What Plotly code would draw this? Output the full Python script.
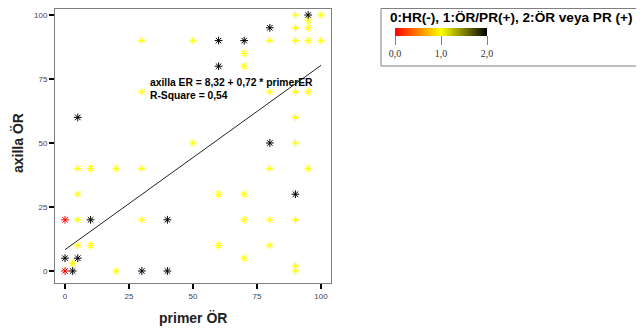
import plotly.graph_objects as go

# The page body adds an 8px margin; the figure is sized to fill the rest.
OFF = 8
W, H = 644 - OFF, 331 - OFF


def px(x):
    return (x - OFF) / W


def py(y):
    return 1 - (y - OFF) / H


# Data: primer ÖR (x) and axilla ÖR (y), grouped by receptor status
# group 1: ÖR/PR(+)  (yellow)
g1_primer = [30, 30, 50, 70, 70, 80, 90, 90, 90, 95, 95, 95, 100, 100, 80, 90, 95, 90,
             50, 90, 80, 95, 60, 70, 70, 80, 90, 60, 80, 70, 90, 90,
             5, 10, 20, 30, 5, 5, 30, 5, 10, 3, 20]
g1_axilla = [90, 70, 90, 85, 80, 90, 100, 95, 90, 98, 95, 90, 100, 90, 70, 70, 70, 60,
             50, 50, 40, 40, 30, 30, 20, 20, 20, 10, 10, 5, 2, 0,
             40, 40, 40, 40, 30, 20, 20, 10, 10, 3, 0]
# group 0: HR(-)  (red)
g0_primer = [0, 0]
g0_axilla = [20, 0]
# group 2: ÖR veya PR (+)  (black)
g2_primer = [0, 3, 5, 5, 10, 30, 40, 40, 60, 70, 60, 80, 95, 80, 90]
g2_axilla = [5, 0, 5, 60, 20, 0, 0, 20, 90, 90, 80, 95, 100, 50, 30]

# Linear fit shown on the chart
intercept, slope = 8.32, 0.72
fit_x = [0, 100]

x_ticks = [0, 25, 50, 75, 100]
y_ticks = [0, 25, 50, 75, 100]
cbar_vals = [0, 1, 2]
cbar_text = ["0,0", "1,0", "2,0"]

xs = g1_primer + g0_primer + g2_primer
ys = g1_axilla + g0_axilla + g2_axilla
grp = [1] * len(g1_primer) + [0] * len(g0_primer) + [2] * len(g2_primer)

cscale = [[0.0, "#ff0000"], [0.5, "#ffff00"], [1.0, "#000000"]]

fig = go.Figure()
fig.add_trace(go.Scatter(
    x=fit_x, y=[intercept + slope * v for v in fit_x],
    mode="lines", line=dict(color="#222222", width=1), showlegend=False,
    hoverinfo="skip"))
fig.add_trace(go.Scatter(
    x=xs, y=ys, mode="markers", showlegend=False,
    marker=dict(symbol="asterisk-open", size=6.5, color=grp, cmin=0, cmax=2,
                colorscale=cscale, line=dict(width=1),
                showscale=True,
                colorbar=dict(orientation="h", x=px(441), xanchor="center",
                              y=py(28), yanchor="top",
                              len=92, lenmode="pixels", thickness=8,
                              xpad=0, ypad=0, outlinewidth=0, borderwidth=0,
                              ticks="outside", ticklen=9, tickwidth=1,
                              tickcolor="#808080",
                              tickvals=cbar_vals, ticktext=cbar_text,
                              tickfont=dict(family="Liberation Serif", size=10,
                                            color="#333333")))))

top_px = 8.5
fig.update_layout(
    width=W, height=H, autosize=False,
    margin=dict(l=0, r=0, t=0, b=0),
    paper_bgcolor="white", plot_bgcolor="white",
    font=dict(family="Arial", color="#333333"),
    xaxis=dict(domain=[px(55), px(331)], range=[-10 / 2.56, 100 + 10 / 2.56],
               tickvals=x_ticks, ticks="outside", ticklen=5, tickwidth=2,
               tickcolor="black", showline=True, linecolor="#808080",
               mirror=True, showgrid=False, zeroline=False,
               tickfont=dict(size=8, color="#444444")),
    yaxis=dict(domain=[py(283), py(top_px)],
               range=[-12 / 2.56, 100 + (15 - top_px) / 2.56],
               tickvals=y_ticks, ticks="outside", ticklen=5, tickwidth=2,
               tickcolor="black", showline=True, linecolor="#808080",
               mirror=True, showgrid=False, zeroline=False,
               tickfont=dict(size=8, color="#444444")),
    shapes=[dict(type="rect", xref="paper", yref="paper",
                 x0=px(381), x1=px(640), y0=py(66), y1=py(top_px),
                 line=dict(color="#808080", width=1), fillcolor="rgba(0,0,0,0)")],
    annotations=[
        dict(text="<b>0:HR(-), 1:ÖR/PR(+), 2:ÖR veya PR (+)</b>", xref="paper",
             yref="paper", x=px(388), y=py(17.5), xanchor="left", yanchor="middle",
             showarrow=False, font=dict(size=13.6, color="black")),
        dict(text="<b>axilla ER = 8,32 + 0,72 * primerER</b>", xref="x", yref="y",
             x=32.4, y=73.8, xanchor="left", yanchor="middle", showarrow=False,
             font=dict(size=10.3, color="black")),
        dict(text="<b>R-Square = 0,54</b>", xref="x", yref="y",
             x=32.4, y=68.4, xanchor="left", yanchor="middle", showarrow=False,
             font=dict(size=10.3, color="black")),
        dict(text="<b>axilla ÖR</b>", xref="paper", yref="paper",
             x=px(18), y=py(143), xanchor="center", yanchor="middle",
             textangle=-90, showarrow=False, font=dict(size=14, color="#222222")),
        dict(text="<b>primer ÖR</b>", xref="paper", yref="paper",
             x=px(193), y=py(318), xanchor="center", yanchor="middle",
             showarrow=False, font=dict(size=14, color="#222222")),
    ],
)

fig.write_html("out.html")
